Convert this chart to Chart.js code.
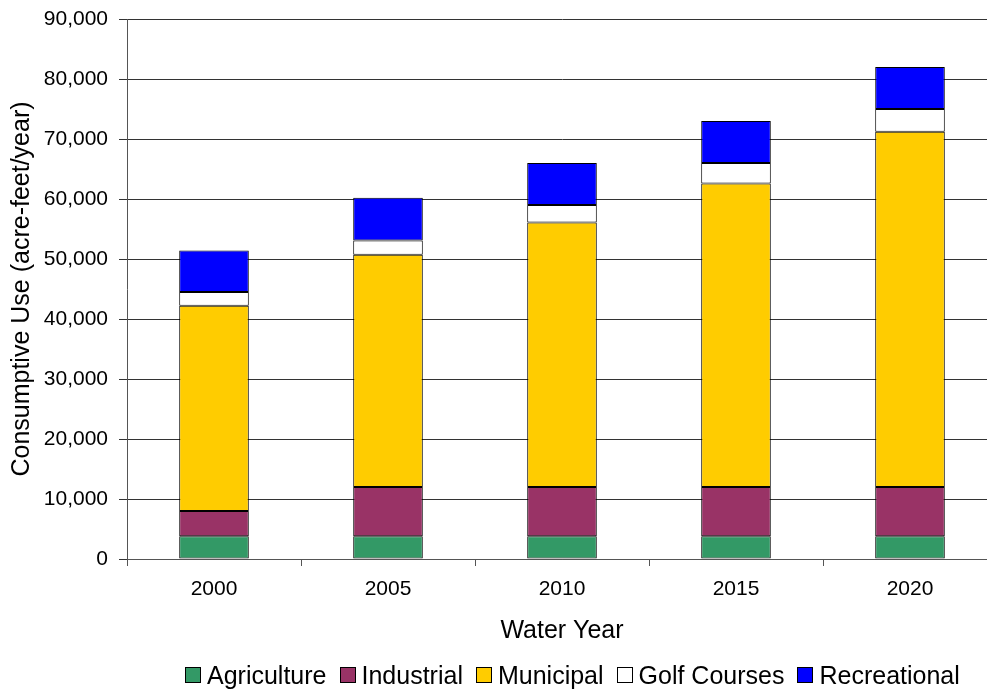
<!DOCTYPE html>
<html>
<head>
<meta charset="utf-8">
<script src="https://cdn.jsdelivr.net/npm/chart.js@4/dist/chart.umd.min.js"></script>
<style>
    html, body { margin: 0; padding: 0; background: #fff; overflow: hidden; }
    #wrap { position: relative; width: 987px; height: 690px; overflow: hidden; }
    #chart { position: absolute; left: 0; top: 0; }
    #legend {
        position: absolute; left: 185px; top: 662px; height: 26px;
        display: flex; align-items: center; white-space: nowrap;
        font-family: "Liberation Sans", Arial, sans-serif; font-size: 25px; color: #000;
    }
    .item { display: flex; align-items: center; margin-right: 13px; }
    .box { box-sizing: border-box; width: 16px; height: 16px; border: 1px solid #000; margin-right: 6px; }
</style>
</head>
<body>
<div id="wrap">
    <canvas id="chart" width="997" height="690"></canvas>
    <div id="legend"></div>
</div>
<script>
// Valores (acre-feet/year)
const years = ['2000', '2005', '2010', '2015', '2020'];
const agriculture = [3800, 3800, 3800, 3800, 3800];
const industrial = [4200, 8200, 8200, 8200, 8200];
const municipal = [34200, 38700, 44100, 50600, 59200];
const golfCourses = [2300, 2400, 2900, 3400, 3800];
const recreational = [6900, 7100, 7000, 7000, 7000];

const seriesNames = ['Agriculture', 'Industrial', 'Municipal', 'Golf Courses', 'Recreational'];
const seriesColors = ['#339966', '#993366', '#FFCC00', '#FFFFFF', '#0000FF'];
const seriesData = [agriculture, industrial, municipal, golfCourses, recreational];

const FONT = '"Liberation Sans", Arial, sans-serif';

const datasets = seriesNames.map((name, i) => ({
    label: name,
    data: seriesData[i],
    backgroundColor: seriesColors[i],
    borderColor: '#000',
    borderWidth: 1,
    borderSkipped: false,
    categoryPercentage: 1,
    barPercentage: 0.4
}));

new Chart(document.getElementById('chart'), {
    type: 'bar',
    data: { labels: years, datasets },
    options: {
        responsive: false,
        animation: false,
        devicePixelRatio: 1,
        layout: { padding: { top: 0, left: 0, right: 0, bottom: 44 } },
        plugins: { legend: { display: false }, tooltip: { enabled: false } },
        scales: {
            x: {
                stacked: true,
                offset: true,
                afterFit: s => { s.height = 87; },
                grid: { offset: true, drawOnChartArea: false, drawTicks: true, tickLength: 7, color: '#555' },
                border: { color: '#555', width: 1 },
                ticks: { color: '#000', font: { family: FONT, size: 21 }, padding: 11, maxRotation: 0 },
                title: { display: true, text: 'Water Year', color: '#000', font: { family: FONT, size: 25 }, padding: { top: 0, bottom: 0 } }
            },
            y: {
                stacked: true,
                min: 0,
                max: 90000,
                // largura fixa do eixo e topo da área do gráfico em 19px
                afterFit: s => { s.width = 127; s.paddingTop = 19; s.paddingBottom = 0; },
                grid: { color: '#333', tickLength: 8, drawTicks: true },
                border: { color: '#555', width: 1 },
                ticks: {
                    stepSize: 10000,
                    color: '#000',
                    padding: 11,
                    font: { family: FONT, size: 21 },
                    callback: v => v.toLocaleString('en-US')
                },
                title: { display: true, text: 'Consumptive Use (acre-feet/year)', color: '#000', font: { family: FONT, size: 25 }, padding: { top: 7, bottom: 0 } }
            }
        }
    }
});

// Legenda em HTML (caixas pequenas coladas ao texto, como no original)
const legend = document.getElementById('legend');
seriesNames.forEach((name, i) => {
    const item = document.createElement('div');
    item.className = 'item';
    const box = document.createElement('span');
    box.className = 'box';
    box.style.background = seriesColors[i];
    const txt = document.createElement('span');
    txt.textContent = name;
    item.appendChild(box);
    item.appendChild(txt);
    legend.appendChild(item);
});
</script>
</body>
</html>
